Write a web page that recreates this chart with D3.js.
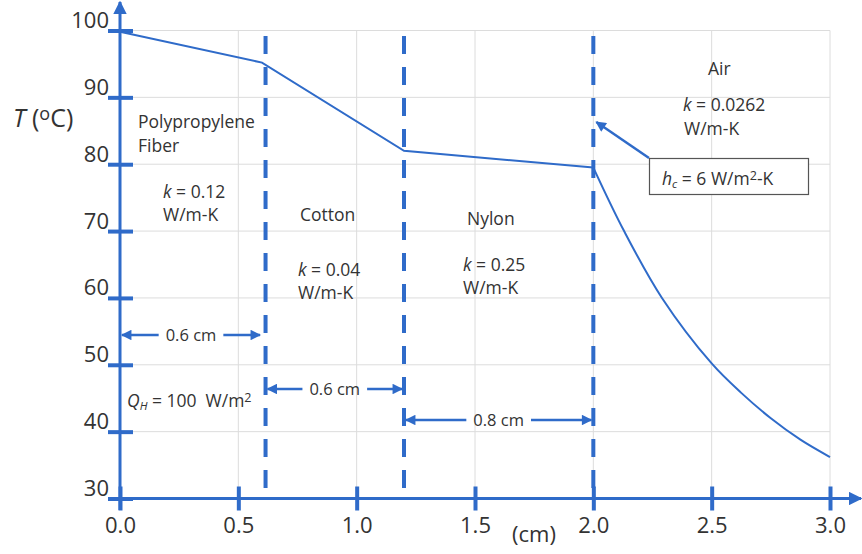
<!DOCTYPE html>
<html>
<head>
<meta charset="utf-8">
<script src="https://cdn.jsdelivr.net/npm/d3@7"></script>
<style>
  body { margin: 0; background: #fff; }
  svg { display: block; font-family: "Open Sans", sans-serif; }
  text { white-space: pre; }
</style>
</head>
<body>
<div id="chart"></div>
<script>
// temperature profile (x in cm, T in degC)
const wallX = [0, 0.6, 1.2, 2.0];
const wallT = [99.8, 95.2, 82.0, 79.5];
const airX = [2.0, 2.13, 2.29, 2.5, 2.625, 2.75, 2.875, 3.0];
const airT = [79.5, 70, 60, 50.2, 45.8, 42.0, 38.8, 36.2];

const boundaries = [0.615, 1.2, 2.0];
const layerStart = [0, 0.615, 1.2];
const layerEnd = [0.6, 1.2, 2.0];
const layerLabels = ["0.6 cm", "0.6 cm", "0.8 cm"];

const xTicks = [0, 0.5, 1.0, 1.5, 2.0, 2.5, 3.0];
const yTicks = [30, 40, 50, 60, 70, 80, 90, 100];

const W = 862, H = 554;
const blue = "#2f6bc9";
const textCol = "#333";

const x = d3.scaleLinear().domain([0, 3]).range([120, 830]);
const y = d3.scaleLinear().domain([30, 100]).range([498.5, 30.5]);

const svg = d3.select("#chart").append("svg")
    .attr("width", W)
    .attr("height", H)
    .attr("viewBox", [0, 0, W, H]);

const defs = svg.append("defs");
defs.append("marker")
    .attr("id", "axisHead")
    .attr("viewBox", "0 0 10 10")
    .attr("refX", 9).attr("refY", 5)
    .attr("markerWidth", 4.5).attr("markerHeight", 4.5)
    .attr("markerUnits", "strokeWidth")
    .attr("orient", "auto")
  .append("path")
    .attr("d", "M0,0 L10,5 L0,10 z")
    .attr("fill", blue);
defs.append("marker")
    .attr("id", "head")
    .attr("viewBox", "0 0 10 10")
    .attr("refX", 9).attr("refY", 5)
    .attr("markerWidth", 4.8).attr("markerHeight", 4.2)
    .attr("markerUnits", "strokeWidth")
    .attr("orient", "auto")
  .append("path")
    .attr("d", "M0,0 L10,5 L0,10 z")
    .attr("fill", blue);

// grid
svg.append("g")
    .selectAll("line")
    .data(xTicks.slice(1))
    .join("line")
    .attr("x1", d => x(d)).attr("x2", d => x(d))
    .attr("y1", y(30)).attr("y2", y(100))
    .attr("stroke", "#dcdcdc").attr("stroke-width", 1);
svg.append("g")
    .selectAll("line")
    .data(yTicks.slice(1))
    .join("line")
    .attr("x1", x(0)).attr("x2", x(3))
    .attr("y1", d => y(d)).attr("y2", d => y(d))
    .attr("stroke", "#dcdcdc").attr("stroke-width", 1);

// dashed layer boundaries
svg.append("g")
    .selectAll("line")
    .data(boundaries)
    .join("line")
    .attr("x1", d => x(d)).attr("x2", d => x(d))
    .attr("y1", 488).attr("y2", 33)
    .attr("stroke", blue)
    .attr("stroke-width", 4)
    .attr("stroke-dasharray", "18,13");

// x axis
const xAxis = svg.append("g")
    .attr("transform", `translate(0,${y(30)})`)
    .call(d3.axisBottom(x).tickValues(xTicks).tickFormat(d3.format(".1f")).tickSize(12));
xAxis.select(".domain").remove();
xAxis.selectAll(".tick line")
    .attr("y1", -12).attr("y2", 12)
    .attr("stroke", blue).attr("stroke-width", 4);
xAxis.selectAll(".tick text")
    .attr("y", 19)
    .attr("dy", "0.71em")
    .attr("fill", textCol)
    .style("font-size", "22px")
    .style("font-family", "'Open Sans', sans-serif");

// y axis
const yAxis = svg.append("g")
    .attr("transform", `translate(${x(0)},0)`)
    .call(d3.axisLeft(y).tickValues(yTicks).tickSize(12));
yAxis.select(".domain").remove();
yAxis.selectAll(".tick line")
    .attr("x1", -12).attr("x2", 13)
    .attr("stroke", blue).attr("stroke-width", 4);
yAxis.selectAll(".tick text")
    .attr("x", -11)
    .attr("y", -3)
    .attr("dy", 0)
    .attr("fill", textCol)
    .style("font-size", "22px")
    .style("font-family", "'Open Sans', sans-serif");

svg.append("line")
    .attr("x1", 108).attr("x2", W - 1)
    .attr("y1", y(30)).attr("y2", y(30))
    .attr("stroke", blue).attr("stroke-width", 3)
    .attr("marker-end", "url(#axisHead)");
svg.append("line")
    .attr("x1", x(0)).attr("x2", x(0))
    .attr("y1", 510).attr("y2", 2)
    .attr("stroke", blue).attr("stroke-width", 3)
    .attr("marker-end", "url(#axisHead)");

// temperature lines
svg.append("path")
    .datum(d3.zip(wallX, wallT))
    .attr("d", d3.line().x(d => x(d[0])).y(d => y(d[1])))
    .attr("fill", "none")
    .attr("stroke", blue)
    .attr("stroke-width", 2);
svg.append("path")
    .datum(d3.zip(airX, airT))
    .attr("d", d3.line().x(d => x(d[0])).y(d => y(d[1])).curve(d3.curveCatmullRom))
    .attr("fill", "none")
    .attr("stroke", blue)
    .attr("stroke-width", 2);

// thickness arrows
const arrowY = [335, 389, 420];
const arrows = svg.append("g");
layerLabels.forEach((lab, i) => {
    const a = x(layerStart[i]), b = x(layerEnd[i]);
    const mid = (a + b) / 2;
    const t = arrows.append("text")
        .attr("x", mid).attr("y", arrowY[i])
        .attr("dy", "0.35em")
        .attr("text-anchor", "middle")
        .attr("fill", textCol)
        .style("font-size", "16.5px")
        .text(lab);
    const half = t.node().getComputedTextLength() / 2 + 7;
    arrows.append("line")
        .attr("x1", mid - half).attr("x2", a + 2)
        .attr("y1", arrowY[i]).attr("y2", arrowY[i])
        .attr("stroke", blue).attr("stroke-width", 2.5)
        .attr("marker-end", "url(#head)");
    arrows.append("line")
        .attr("x1", mid + half).attr("x2", b - 2)
        .attr("y1", arrowY[i]).attr("y2", arrowY[i])
        .attr("stroke", blue).attr("stroke-width", 2.5)
        .attr("marker-end", "url(#head)");
});

// text annotations
function label(px, py, parts, size) {
    const t = svg.append("text")
        .attr("x", px).attr("y", py)
        .attr("fill", textCol)
        .style("font-size", (size || 16) + "px");
    parts.forEach(p => {
        const s = t.append("tspan").text(p.t);
        if (p.i) s.style("font-style", "italic");
        if (p.sub) s.attr("baseline-shift", "-25%").style("font-size", "0.65em");
        if (p.sup) s.attr("baseline-shift", "38%").style("font-size", "0.72em");
    });
    return t;
}
label(13, 127, [{t: "T", i: true}, {t: " ("}, {t: "o", sup: true}, {t: "C)"}], 25);

label(138, 128, [{t: "Polypropylene"}], 17.5);
label(138, 152, [{t: "Fiber"}], 17.5);
label(163, 198, [{t: "k", i: true}, {t: " = 0.12"}], 17.5);
label(163, 221, [{t: "W/m-K"}], 17.5);

label(300, 221, [{t: "Cotton"}], 17.5);
label(298, 276, [{t: "k", i: true}, {t: " = 0.04"}], 17.5);
label(298, 299, [{t: "W/m-K"}], 17.5);

label(467, 225, [{t: "Nylon"}], 17.5);
label(463, 271, [{t: "k", i: true}, {t: " = 0.25"}], 17.5);
label(463, 294, [{t: "W/m-K"}], 17.5);

label(708, 75, [{t: "Air"}], 17.5);
label(683, 111, [{t: "k", i: true}, {t: " = 0.0262"}], 17.5);
label(684, 135, [{t: "W/m-K"}], 17.5);

label(127, 407, [{t: "Q", i: true}, {t: "H", i: true, sub: true}, {t: " = 100  W/m"}, {t: "2", sup: true}], 17.5);

// convection box + pointer
svg.append("rect")
    .attr("x", 649.5).attr("y", 158.5)
    .attr("width", 159).attr("height", 36)
    .attr("fill", "#fff")
    .attr("stroke", "#555").attr("stroke-width", 1.2);
label(662, 185, [{t: "h", i: true}, {t: "c", i: true, sub: true}, {t: " = 6 W/m"}, {t: "2", sup: true}, {t: "-K"}], 17.5);
svg.append("line")
    .attr("x1", 649).attr("y1", 158)
    .attr("x2", x(2) + 3).attr("y2", 122)
    .attr("stroke", blue).attr("stroke-width", 2.5)
    .attr("marker-end", "url(#head)");

// x axis title
svg.append("text")
    .attr("x", 512).attr("y", 542)
    .attr("fill", textCol)
    .style("font-size", "22px")
    .text("(cm)");
</script>
</body>
</html>
